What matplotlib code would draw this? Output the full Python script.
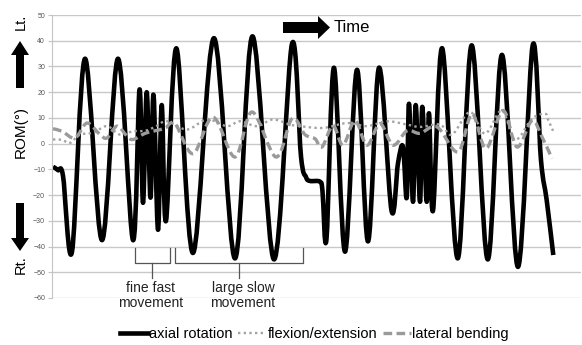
import matplotlib
matplotlib.use("Agg")
import matplotlib.pyplot as plt
from matplotlib.lines import Line2D
from matplotlib.path import Path
from matplotlib.patches import PathPatch, Polygon

plt.rcParams["font.family"] = ["Liberation Sans", "DejaVu Sans"]

# values (time in arbitrary units, ROM in degrees)
axial_t = [1, 6, 11, 20, 33, 50, 66, 81, 87.5, 91, 94.7, 98.5, 101.5, 106, 109.7, 114,
           124.5, 141, 162, 183, 200.5, 222, 240, 249, 254, 258, 268, 270.5, 274.5, 282, 293,
           305, 316, 327, 339.5, 346, 351, 354.7, 357, 361, 363.7, 368, 370.3, 374.7,
           377, 381, 390.3, 405.7, 419.7, 435.7, 450, 466, 480.7, 489, 494.7, 501.3]
axial_rom = [-9, -10.3, -12.5, -42, 33, -37.5, 33, -37.5, 21, -23, 20, -21, 19, -33.5, 15, -30,
             37, -42.5, 41, -44.6, 41.7, -45, 38.8, -5, -13, -14.5, -14.8, -18.5, -37, 29.5, -42,
             28.7, -38, 29.5, -26, -7.6, -1.2, -21, 15.5, -22.6, 15, -22.6, 14.3, -22.6,
             11.8, -26, 37, -44.6, 38.2, -45, 34.5, -47.9, 38.2, -6.5, -22, -43.3]

flex_t = [1, 10, 18, 28, 41, 55, 68, 81, 93, 103, 115, 135, 155, 175, 188, 205, 221, 238,
          248, 271, 295, 315, 335, 355, 368, 388, 400, 418, 433, 450, 463, 480, 493, 496, 501]
flex_rom = [1.6, 1.5, 0.3, 3.5, 4.2, 6.8, 3.5, 4.8, 5, 6.5, 8.7, 5.5, 9.4, 6.8, 8.7, 6.8, 9.4,
            7.4, 6.8, 6.1, 8, 6.8, 8.7, 7.4, 6.5, 7.4, 3.5, 12.3, 3.9, 12.9, 1.5, 9.7, 11.6, 9.4, 5]

lat_t = [1, 10, 23, 35, 48, 55, 65, 75, 81, 93, 103, 113, 123, 141, 161, 183, 200, 224, 240,
         253, 263, 270, 281, 291, 303, 315, 328, 341, 355, 368, 385, 406, 420, 434, 451, 465,
         480, 490, 500]
lat_rom = [5.8, 4.8, 2.2, 8, 3.5, 2.2, 6.8, 2.9, 1.6, 4, 5, 6, 7.8, -3.9, 10.3, -5.2, 12.3,
           -5.2, 9.7, 3.5, 1.9, -1.3, 7, -0.6, 9, -0.6, 7.8, -0.6, 5, 4, 6.5, -3.2, 11.6, -1.9,
           12.9, -1.3, 9, 2.6, -5.8]

series_names = ["axial rotation", "flexion/extension", "lateral bending"]
y_ticks = list(range(-60, 51, 10))

W, H = 582, 345


def smooth_path(xs, ys):
    # Excel-style smoothed line: Catmull-Rom segments as cubic Beziers
    pts = list(zip(xs, ys))
    verts = [pts[0]]
    codes = [Path.MOVETO]
    n = len(pts)
    for i in range(n - 1):
        p0 = pts[max(i - 1, 0)]
        p1 = pts[i]
        p2 = pts[i + 1]
        p3 = pts[min(i + 2, n - 1)]
        c1 = (p1[0] + (p2[0] - p0[0]) / 6, p1[1] + (p2[1] - p0[1]) / 6)
        c2 = (p2[0] - (p3[0] - p1[0]) / 6, p2[1] - (p3[1] - p1[1]) / 6)
        verts += [c1, c2, p2]
        codes += [Path.CURVE4] * 3
    return Path(verts, codes)


def fig_xy(px, py):
    return (px / W, 1 - py / H)


fig = plt.figure(figsize=(W / 100, H / 100), dpi=100)
ax = fig.add_axes([52 / W, 1 - 298 / H, 529 / W, 283 / H])

styles = [
    dict(color="black", lw=3.3, ls="-", z=2),
    dict(color="#a3a3a3", lw=1.7, ls=(0, (1, 1.4)), z=3),
    dict(color="#9a9a9a", lw=2.4, ls=(0, (2.6, 1.3)), z=4),
]
for (xs, ys), st in zip([(axial_t, axial_rom), (flex_t, flex_rom), (lat_t, lat_rom)], styles):
    patch = PathPatch(smooth_path(xs, ys), fill=False, edgecolor=st["color"], lw=st["lw"],
                      linestyle=st["ls"], joinstyle="round", capstyle="butt", zorder=st["z"])
    ax.add_patch(patch)

ax.set_xlim(0, 529)
ax.set_ylim(-60, 50)
ax.set_yticks(y_ticks)
ax.set_xticks([])
ax.tick_params(axis="y", labelsize=5, labelcolor="#555555", length=3, color="#c4c4c4", pad=2)
ax.grid(axis="y", color="#c8c8c8", lw=1)
ax.set_axisbelow(True)
for side in ["top", "right", "bottom"]:
    ax.spines[side].set_visible(False)
ax.spines["left"].set_color("#c4c4c4")

# braces under the curves
brace_col = "#555555"
for x0, x1, xc in [(83, 118, 100), (123, 251, 187)]:
    ax.plot([x0, x0, x1, x1], [-40.5, -46.4, -46.4, -40.5], color=brace_col, lw=0.9,
            clip_on=False, zorder=5)
    ax.plot([xc, xc], [-46.4, -52.2], color=brace_col, lw=0.9, clip_on=False, zorder=5)
ax.text(99, -53.3, "fine fast\nmovement", ha="center", va="top", fontsize=10,
        color="#222222", linespacing=1.15, clip_on=False)
ax.text(191, -53.3, "large slow\nmovement", ha="center", va="top", fontsize=10,
        color="#222222", linespacing=1.15, clip_on=False)

# arrows and side labels
up = [(16, 88), (16, 55), (11, 55), (20, 41), (29, 55), (24, 55), (24, 88)]
down = [(16, 203), (16, 238), (11, 238), (20, 251), (29, 238), (24, 238), (24, 203)]
right = [(283, 22), (318, 22), (318, 16), (330, 27.5), (318, 39), (318, 33), (283, 33)]
for pts in [up, down, right]:
    fig.add_artist(Polygon([fig_xy(*p) for p in pts], closed=True, facecolor="black",
                           edgecolor="none", transform=fig.transFigure))

fig.text(*fig_xy(21, 22), "Lt.", rotation=90, ha="center", va="center", fontsize=10.5)
fig.text(*fig_xy(21, 132), "ROM(°)", rotation=90, ha="center", va="center", fontsize=11)
fig.text(*fig_xy(21, 265), "Rt.", rotation=90, ha="center", va="center", fontsize=10.5)
fig.text(*fig_xy(334, 27), "Time", ha="left", va="center", fontsize=12)

handles = [Line2D([], [], color=st["color"], lw=st["lw"], ls=st["ls"]) for st in styles]
fig.legend(handles, series_names, loc="center", bbox_to_anchor=(0.54, 0.032), ncol=3,
           frameon=False, fontsize=10.5, handlelength=1.9, handletextpad=0.1,
           columnspacing=0.4, borderpad=0)

fig.savefig("out.png", dpi=100)
